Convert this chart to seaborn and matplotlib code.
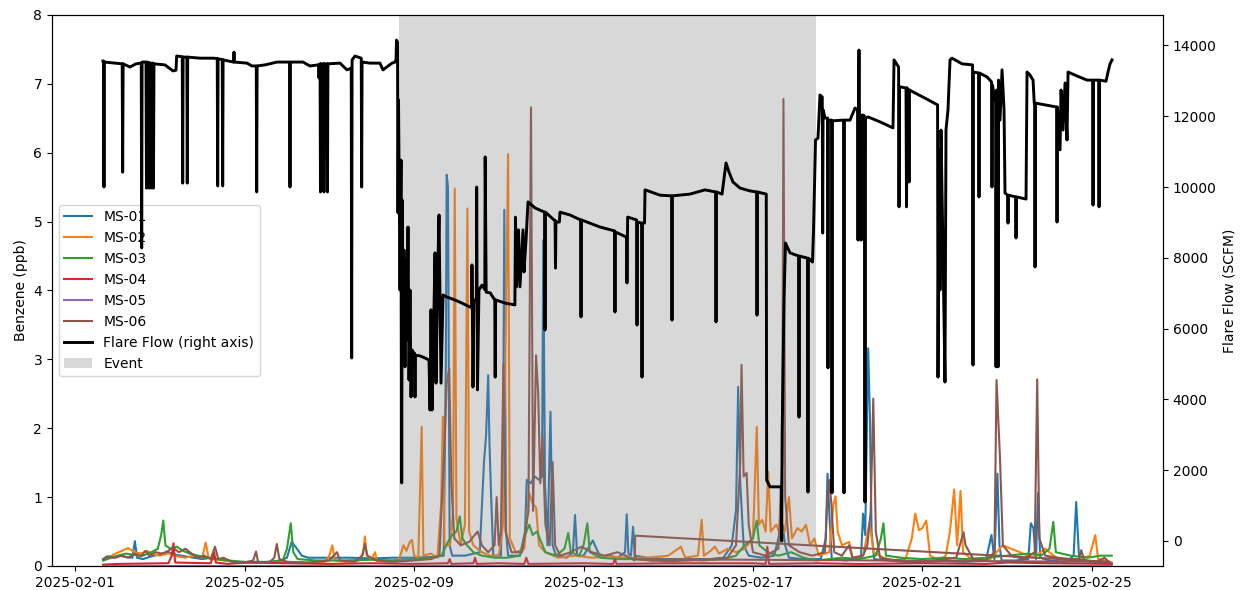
import numpy as np
import pandas as pd
import matplotlib
matplotlib.use("Agg")
import matplotlib.pyplot as plt
import matplotlib.dates as mdates
import seaborn as sns

# ---------------------------------------------------------------------------
# Data: times are days after 2025-02-01 00:00, benzene in ppb, flare in SCFM
# ---------------------------------------------------------------------------
START = pd.Timestamp("2025-02-01")

ms01 = [
    (0.66, 0.10), (0.75, 0.14), (0.90, 0.12), (1.05, 0.15), (1.20, 0.13), (1.35, 0.12),
    (1.41, 0.36), (1.46, 0.12), (1.60, 0.10), (1.80, 0.14), (2.00, 0.17), (2.20, 0.20),
    (2.40, 0.16), (2.60, 0.14), (2.80, 0.12), (3.00, 0.10), (3.20, 0.12), (3.40, 0.10),
    (3.60, 0.08), (3.80, 0.06), (4.00, 0.05), (4.30, 0.06), (4.60, 0.05), (4.85, 0.08),
    (5.00, 0.12), (5.11, 0.35), (5.20, 0.28), (5.35, 0.15), (5.50, 0.12), (6.00, 0.12),
    (6.50, 0.12), (7.00, 0.11), (7.50, 0.12), (8.00, 0.12), (8.40, 0.13), (8.70, 0.15),
    (8.75, 3.00), (8.77, 5.68), (8.80, 5.50), (8.84, 0.30), (8.90, 0.15), (9.20, 0.15),
    (9.55, 0.20), (9.65, 1.50), (9.70, 1.90), (9.75, 2.77), (9.78, 1.78), (9.82, 1.00),
    (9.87, 0.15), (10.05, 0.15), (10.10, 1.50), (10.13, 5.17), (10.17, 0.50), (10.22, 0.15),
    (10.50, 0.15), (10.62, 0.50), (10.66, 1.25), (10.75, 1.20), (10.85, 1.30), (10.95, 1.25),
    (11.02, 1.30), (11.05, 4.73), (11.09, 1.20), (11.15, 0.30), (11.22, 2.24), (11.27, 0.30),
    (11.35, 0.15), (11.60, 0.12), (11.75, 0.20), (11.80, 0.74), (11.85, 0.15), (12.00, 0.15),
    (12.10, 0.25), (12.22, 0.37), (12.40, 0.12), (12.60, 0.15), (12.80, 0.12), (12.98, 0.20),
    (13.02, 0.75), (13.06, 0.18), (13.12, 0.15), (13.17, 0.57), (13.21, 0.15), (13.50, 0.12),
    (14.00, 0.10), (14.50, 0.10), (15.00, 0.10), (15.30, 0.12), (15.50, 0.30), (15.60, 0.81),
    (15.65, 2.60), (15.70, 1.20), (15.78, 0.30), (15.90, 0.15), (16.20, 0.12), (16.50, 0.15),
    (16.60, 0.40), (16.70, 0.60), (16.76, 0.30), (16.85, 0.12), (17.20, 0.10), (17.60, 0.10),
    (17.72, 0.40), (17.76, 1.34), (17.80, 0.80), (17.86, 0.10), (18.20, 0.08), (18.55, 0.12),
    (18.60, 0.76), (18.65, 0.45), (18.72, 3.16), (18.76, 2.20), (18.80, 0.50), (18.86, 0.10),
    (19.20, 0.08), (19.60, 0.06), (20.00, 0.06), (20.50, 0.07), (21.00, 0.06), (21.50, 0.08),
    (21.63, 0.45), (21.70, 0.10), (21.77, 1.34), (21.82, 0.30), (21.87, 0.08), (22.20, 0.08),
    (22.50, 0.10), (22.56, 0.62), (22.62, 0.55), (22.68, 0.10), (22.73, 1.06), (22.78, 0.12),
    (23.00, 0.08), (23.40, 0.06), (23.57, 0.15), (23.63, 0.93), (23.70, 0.10), (24.00, 0.06),
    (24.47, 0.05),
]

ms02 = [
    (0.66, 0.08), (0.80, 0.12), (0.95, 0.18), (1.10, 0.22), (1.25, 0.26), (1.40, 0.20),
    (1.55, 0.18), (1.70, 0.22), (1.85, 0.17), (2.00, 0.15), (2.20, 0.18), (2.40, 0.14),
    (2.60, 0.12), (2.80, 0.15), (3.00, 0.12), (3.08, 0.34), (3.15, 0.12), (3.30, 0.10),
    (3.50, 0.08), (3.80, 0.06), (4.10, 0.05), (4.50, 0.05), (5.00, 0.06), (5.50, 0.05),
    (5.90, 0.06), (6.00, 0.15), (6.07, 0.30), (6.13, 0.08), (6.40, 0.06), (6.70, 0.08),
    (6.80, 0.20), (6.84, 0.43), (6.88, 0.15), (7.00, 0.10), (7.08, 0.20), (7.12, 0.08),
    (7.40, 0.06), (7.65, 0.10), (7.75, 0.30), (7.82, 0.22), (7.90, 0.35), (7.95, 0.38),
    (8.00, 0.15), (8.10, 0.12), (8.18, 2.02), (8.22, 0.15), (8.40, 0.18), (8.55, 0.12),
    (8.64, 0.90), (8.68, 2.17), (8.72, 0.30), (8.85, 0.30), (8.92, 0.80), (8.96, 5.48),
    (9.00, 0.70), (9.10, 0.30), (9.20, 0.60), (9.26, 5.19), (9.30, 0.50), (9.40, 0.30),
    (9.60, 0.20), (9.80, 0.15), (10.00, 0.15), (10.10, 0.60), (10.22, 5.98), (10.26, 0.40),
    (10.40, 0.20), (10.60, 0.25), (10.72, 1.06), (10.80, 0.90), (10.88, 0.85), (10.95, 0.30),
    (11.10, 0.20), (11.40, 0.12), (11.80, 0.15), (12.20, 0.12), (12.60, 0.14), (13.00, 0.12),
    (13.50, 0.12), (14.00, 0.15), (14.30, 0.28), (14.40, 0.12), (14.70, 0.15), (14.79, 0.67),
    (14.84, 0.15), (15.00, 0.22), (15.10, 0.28), (15.20, 0.18), (15.40, 0.25), (15.60, 0.20),
    (15.80, 0.25), (16.00, 0.40), (16.09, 2.02), (16.14, 0.60), (16.22, 0.67), (16.30, 0.50),
    (16.36, 1.37), (16.42, 0.50), (16.55, 0.60), (16.65, 0.45), (16.75, 0.50), (16.85, 1.00),
    (16.92, 0.40), (17.05, 0.55), (17.15, 0.50), (17.25, 0.60), (17.35, 0.30), (17.45, 0.40),
    (17.55, 0.15), (17.80, 0.20), (17.90, 0.90), (17.95, 1.01), (18.00, 0.50), (18.10, 0.30),
    (18.27, 0.35), (18.35, 0.12), (18.60, 0.15), (18.75, 0.62), (18.85, 0.20), (19.20, 0.08),
    (19.60, 0.10), (19.75, 0.40), (19.83, 0.76), (19.92, 0.52), (20.00, 0.55), (20.09, 0.66),
    (20.18, 0.15), (20.40, 0.08), (20.55, 0.15), (20.65, 0.50), (20.75, 1.11), (20.82, 0.30),
    (20.90, 1.09), (20.96, 0.20), (21.20, 0.08), (21.60, 0.10), (21.90, 0.30), (22.10, 0.25),
    (22.30, 0.20), (22.60, 0.12), (22.90, 0.25), (23.20, 0.10), (23.60, 0.08), (23.95, 0.15),
    (24.08, 0.45), (24.15, 0.10), (24.30, 0.08), (24.47, 0.04),
]

ms03 = [
    (0.66, 0.08), (0.85, 0.12), (1.00, 0.15), (1.20, 0.18), (1.40, 0.16), (1.60, 0.15),
    (1.80, 0.20), (1.95, 0.25), (2.03, 0.45), (2.08, 0.66), (2.13, 0.30), (2.25, 0.25),
    (2.40, 0.28), (2.55, 0.22), (2.70, 0.18), (2.90, 0.15), (3.10, 0.12), (3.30, 0.10),
    (3.60, 0.08), (4.00, 0.06), (4.50, 0.06), (4.90, 0.08), (5.00, 0.25), (5.09, 0.62),
    (5.15, 0.20), (5.25, 0.10), (5.70, 0.08), (6.30, 0.08), (7.00, 0.09), (7.60, 0.08),
    (8.00, 0.10), (8.40, 0.12), (8.65, 0.15), (8.80, 0.35), (8.90, 0.45), (9.00, 0.50),
    (9.08, 0.72), (9.14, 0.40), (9.25, 0.30), (9.40, 0.20), (9.60, 0.15), (9.90, 0.12),
    (10.20, 0.12), (10.50, 0.15), (10.62, 0.45), (10.72, 0.60), (10.80, 0.45), (10.90, 0.50),
    (11.00, 0.35), (11.10, 0.20), (11.35, 0.15), (11.55, 0.25), (11.64, 0.48), (11.70, 0.20),
    (11.90, 0.15), (12.00, 0.30), (12.09, 0.62), (12.15, 0.20), (12.40, 0.12), (12.80, 0.10),
    (13.20, 0.10), (13.60, 0.08), (14.20, 0.10), (14.80, 0.08), (15.30, 0.10), (15.60, 0.15),
    (15.80, 0.30), (16.00, 0.40), (16.09, 0.66), (16.15, 0.30), (16.35, 0.20), (16.60, 0.15),
    (16.90, 0.20), (17.20, 0.12), (17.50, 0.08), (17.80, 0.10), (18.10, 0.12), (18.50, 0.10),
    (18.90, 0.15), (19.02, 0.40), (19.08, 0.62), (19.14, 0.15), (19.50, 0.12), (20.00, 0.10),
    (20.50, 0.12), (21.00, 0.10), (21.50, 0.12), (22.00, 0.15), (22.50, 0.18), (22.80, 0.15),
    (23.00, 0.25), (23.09, 0.64), (23.15, 0.20), (23.50, 0.15), (23.90, 0.12), (24.20, 0.15),
    (24.47, 0.15),
]

ms04 = [
    (0.66, 0.02), (1.00, 0.03), (2.20, 0.04), (2.28, 0.15), (2.32, 0.33), (2.36, 0.05),
    (3.20, 0.04), (3.28, 0.20), (3.32, 0.05), (3.60, 0.03), (4.00, 0.05), (5.00, 0.04),
    (6.00, 0.03), (7.00, 0.04), (8.00, 0.03), (8.80, 0.04), (8.84, 0.10), (8.88, 0.03),
    (9.40, 0.04), (9.44, 0.12), (9.48, 0.03), (10.00, 0.04), (10.60, 0.03), (10.65, 0.12),
    (10.70, 0.03), (12.00, 0.04), (12.70, 0.03), (12.74, 0.10), (12.78, 0.03), (14.00, 0.04),
    (15.00, 0.04), (16.00, 0.04), (16.30, 0.03), (16.34, 0.28), (16.38, 0.03), (17.50, 0.04),
    (18.50, 0.03), (20.00, 0.04), (21.50, 0.03), (22.00, 0.05), (23.00, 0.04), (24.47, 0.03),
]

ms05 = [(0.66, 0.00), (8.00, 0.00), (16.00, 0.00), (24.47, 0.00)]

ms06 = [
    (0.66, 0.10), (0.80, 0.14), (0.95, 0.12), (1.10, 0.15), (1.25, 0.12), (1.40, 0.18),
    (1.55, 0.14), (1.66, 0.22), (1.75, 0.15), (1.90, 0.20), (2.05, 0.18), (2.20, 0.22),
    (2.30, 0.27), (2.45, 0.20), (2.60, 0.25), (2.75, 0.18), (2.90, 0.12), (3.05, 0.15),
    (3.20, 0.10), (3.30, 0.28), (3.38, 0.10), (3.50, 0.12), (3.70, 0.06), (4.00, 0.05),
    (4.20, 0.08), (4.27, 0.21), (4.32, 0.05), (4.60, 0.06), (4.70, 0.12), (4.76, 0.32),
    (4.82, 0.10), (5.00, 0.06), (5.50, 0.05), (6.00, 0.08), (6.18, 0.20), (6.25, 0.08),
    (6.60, 0.06), (6.78, 0.15), (6.84, 0.32), (6.90, 0.15), (7.10, 0.08), (7.50, 0.06),
    (8.00, 0.08), (8.40, 0.10), (8.60, 0.15), (8.72, 1.80), (8.77, 2.65), (8.83, 2.87),
    (8.88, 1.20), (8.95, 0.40), (9.10, 0.30), (9.30, 0.35), (9.50, 0.50), (9.60, 0.30),
    (9.75, 0.20), (9.90, 0.30), (9.95, 1.00), (10.00, 0.30), (10.05, 0.50), (10.11, 2.94),
    (10.16, 0.50), (10.30, 0.20), (10.55, 0.20), (10.70, 0.80), (10.76, 6.66), (10.81, 0.80),
    (10.88, 3.06), (10.93, 2.50), (10.98, 1.20), (11.03, 1.88), (11.10, 0.60), (11.20, 0.30),
    (11.27, 1.51), (11.33, 0.30), (11.45, 0.15), (11.70, 0.20), (11.95, 0.28), (12.20, 0.20),
    (12.50, 0.15), (12.80, 0.20), (13.00, 0.15), (13.21, 0.08), (13.22, 0.44),
    # second block of the station log, appended after the first one
    (24.43, 0.06),
    (13.25, 0.10), (13.60, 0.08), (14.00, 0.07), (14.50, 0.08), (15.00, 0.10), (15.40, 0.12),
    (15.60, 0.30), (15.70, 1.50), (15.73, 2.92), (15.78, 1.30), (15.85, 1.35), (15.90, 0.60),
    (16.00, 0.20), (16.30, 0.15), (16.60, 0.25), (16.69, 1.50), (16.72, 6.78), (16.76, 1.00),
    (16.85, 0.30), (17.10, 0.20), (17.40, 0.15), (17.70, 0.20), (17.75, 0.90), (17.80, 1.25),
    (17.85, 0.91), (17.92, 0.20), (18.10, 0.15), (18.27, 0.30), (18.35, 0.12), (18.60, 0.15),
    (18.70, 0.30), (18.78, 0.80), (18.84, 2.43), (18.90, 0.50), (19.00, 0.12), (19.40, 0.08),
    (19.80, 0.06), (20.30, 0.08), (20.80, 0.12), (20.97, 0.49), (21.02, 0.30), (21.20, 0.10),
    (21.50, 0.08), (21.70, 0.20), (21.75, 2.70), (21.83, 1.59), (21.90, 0.30), (22.10, 0.15),
    (22.40, 0.10), (22.65, 0.20), (22.71, 2.71), (22.76, 0.40), (22.90, 0.15), (23.20, 0.12),
    (23.50, 0.10), (23.70, 0.10), (23.75, 0.23), (23.82, 0.08), (24.10, 0.06), (24.30, 0.12),
    (24.40, 0.06),
]

flare = [
    # before the event
    (0.656, 13560), (0.670, 13560), (0.680, 10000), (0.690, 13530), (0.940, 13500),
    (1.110, 13480), (1.121, 10420), (1.132, 13480), (1.294, 13390), (1.435, 13480),
    (1.560, 13500), (1.570, 8280), (1.580, 13530), (1.672, 13530), (1.683, 9970), (1.695, 13530),
    (1.730, 13520), (1.742, 9970), (1.754, 13500), (1.790, 13500), (1.801, 9970), (1.813, 13500),
    (1.836, 13500), (1.848, 9970), (1.860, 13480), (2.120, 13450), (2.309, 13280), (2.380, 13300),
    (2.396, 13700), (2.528, 13680), (2.538, 10110), (2.548, 13670), (2.636, 13670), (2.646, 10110),
    (2.656, 13670), (2.946, 13640), (3.253, 13640), (3.354, 13630), (3.364, 10030), (3.374, 13620),
    (3.472, 13600), (3.482, 10030), (3.492, 13590), (3.740, 13530), (3.749, 13810), (3.758, 13530),
    (4.056, 13500), (4.174, 13420), (4.275, 13420), (4.285, 9860), (4.295, 13420), (4.481, 13450),
    (4.764, 13530), (5.061, 13530), (5.071, 10000), (5.081, 13530), (5.378, 13530), (5.543, 13420),
    (5.732, 13450), (5.746, 13440), (5.756, 13080), (5.766, 13450), (5.781, 13480), (5.791, 9860),
    (5.801, 13480), (5.863, 13480), (5.873, 9860), (5.883, 13480), (5.946, 13480), (5.956, 9860),
    (5.966, 13480), (6.251, 13500), (6.416, 13310), (6.517, 13360), (6.527, 5170), (6.537, 13590),
    (6.605, 13700), (6.753, 13640), (6.763, 10000), (6.773, 13530), (6.959, 13500), (7.195, 13500),
    (7.266, 13310), (7.479, 13500), (7.550, 13530), (7.575, 13600), (7.585, 14150), (7.609, 14100),
    # event
    (7.621, 9270), (7.633, 12460), (7.644, 10850), (7.668, 7090), (7.692, 10760), (7.708, 1640),
    (7.722, 9630), (7.738, 5110), (7.762, 8220), (7.786, 4920), (7.810, 7940), (7.833, 5680),
    (7.857, 8870), (7.881, 4550), (7.904, 7090), (7.928, 4070), (7.951, 5400), (7.975, 5340),
    (8.012, 5300), (8.022, 4070), (8.032, 5250), (8.140, 5230), (8.258, 5170), (8.353, 5110),
    (8.377, 3700), (8.400, 6530), (8.424, 3700), (8.447, 5060), (8.495, 8140), (8.518, 4460),
    (8.565, 7940), (8.589, 9210), (8.612, 6810), (8.636, 4460), (8.683, 6950), (8.778, 6890),
    (8.966, 6810), (9.131, 6720), (9.320, 6610), (9.360, 6600), (9.367, 7800), (9.391, 4350),
    (9.414, 6810), (9.470, 6800), (9.478, 10000), (9.497, 4270), (9.532, 7090), (9.603, 7230),
    (9.670, 7100), (9.679, 10850), (9.702, 7030), (9.797, 7010), (9.905, 6810), (9.915, 4630),
    (9.925, 6810), (10.151, 6720), (10.380, 6670), (10.394, 9150), (10.420, 7180), (10.465, 8790),
    (10.500, 7180), (10.572, 8790), (10.595, 7600), (10.643, 8500), (10.690, 9580), (10.855, 9410),
    (11.081, 9290), (11.091, 5960), (11.101, 9290), (11.304, 9070), (11.329, 9060), (11.339, 7710),
    (11.349, 9010), (11.430, 9010), (11.445, 9290), (11.681, 9210), (11.931, 9070), (11.941, 6330),
    (11.951, 9070), (12.389, 8870), (12.733, 8760), (12.743, 6470), (12.753, 8730), (13.003, 8590),
    (13.016, 8590), (13.026, 7290), (13.036, 8590), (13.042, 9150), (13.253, 9070), (13.263, 6100),
    (13.273, 9010), (13.371, 8980), (13.381, 4630), (13.391, 8980), (13.440, 8980), (13.452, 9920),
    (13.806, 9770), (14.079, 9750), (14.089, 6240), (14.099, 9750), (14.514, 9800), (14.868, 9920),
    (15.118, 9860), (15.128, 6190), (15.138, 9860), (15.270, 9800), (15.364, 10680), (15.435, 10420),
    (15.529, 10140), (15.695, 9970), (15.931, 9890), (16.086, 9860), (16.096, 6380), (16.106, 9860),
    (16.314, 9800), (16.324, 1720), (16.402, 1530), (16.668, 1530), (16.678, 0), (16.690, 3050),
    (16.733, 6810), (16.768, 8420), (16.874, 8140), (17.077, 8050), (17.087, 3500), (17.097, 8050),
    (17.289, 7990), (17.299, 1380), (17.309, 7990), (17.406, 7880), (17.430, 8790), (17.477, 11330),
    # after the event
    (17.535, 11380), (17.582, 12600), (17.636, 12540), (17.646, 8700), (17.656, 12180), (17.701, 11950),
    (17.761, 11950), (17.771, 4890), (17.781, 11890), (17.856, 11890), (17.866, 1360), (17.876, 11870),
    (18.139, 11890), (18.149, 1360), (18.159, 11890), (18.291, 11890), (18.409, 12230), (18.470, 12180),
    (18.480, 8500), (18.490, 12200), (18.503, 13870), (18.515, 12000), (18.541, 11950), (18.551, 8500),
    (18.561, 12030), (18.612, 12030), (18.622, 8500), (18.632, 12000), (18.645, 1100), (18.657, 11950),
    (18.716, 11980), (19.000, 11840), (19.306, 11670), (19.330, 13590), (19.438, 13390), (19.448, 9440),
    (19.458, 12830), (19.613, 12800), (19.625, 9440), (19.637, 12800), (19.674, 12740), (19.684, 10140),
    (19.694, 12740), (20.062, 12510), (20.358, 12320), (20.368, 4630), (20.392, 11050), (20.415, 7090),
    (20.439, 11610), (20.486, 8220), (20.533, 4490), (20.557, 11610), (20.604, 12180), (20.652, 13590),
    (20.699, 13640), (20.935, 13480), (21.184, 13450), (21.194, 4970), (21.204, 13250), (21.326, 13220),
    (21.336, 9720), (21.346, 13220), (21.525, 13110), (21.633, 12970), (21.643, 10000), (21.653, 12880),
    (21.714, 12460), (21.728, 12600), (21.738, 4920), (21.750, 12740), (21.775, 12700), (21.785, 4920),
    (21.797, 13020), (21.832, 11890), (21.880, 13310), (21.927, 12180), (21.950, 9830), (22.011, 9770),
    (22.021, 8980), (22.031, 9770), (22.200, 9720), (22.210, 8560), (22.220, 9720), (22.446, 9660),
    (22.470, 13250), (22.541, 13160), (22.612, 13020), (22.640, 12370), (22.649, 12370), (22.659, 7740),
    (22.669, 12370), (22.895, 12320), (23.168, 12260), (23.178, 9010), (23.188, 12260), (23.249, 11050),
    (23.273, 12740), (23.320, 11610), (23.367, 12940), (23.414, 11330), (23.438, 13250), (23.603, 13160),
    (23.886, 13020), (24.018, 13020), (24.028, 9490), (24.038, 13020), (24.160, 13020), (24.170, 9440),
    (24.180, 13020), (24.335, 12990), (24.382, 13250), (24.429, 13480), (24.476, 13590),
]

stations = ["MS-01", "MS-02", "MS-03", "MS-04", "MS-05", "MS-06"]
station_data = [ms01, ms02, ms03, ms04, ms05, ms06]
station_colors = ["#1f77b4", "#ff7f0e", "#2ca02c", "#d62728", "#9467bd", "#8c564b"]

event_start_day = 7.644
event_end_day = 17.488


def to_frame(pairs, name):
    days, vals = zip(*pairs)
    return pd.DataFrame({
        "time": START + pd.to_timedelta(np.array(days), unit="D"),
        name: np.array(vals, dtype=float),
    })


fig, ax = plt.subplots(figsize=(12.46, 5.90), dpi=100)
fig.subplots_adjust(left=0.0417, right=0.9334, bottom=0.0407, top=0.9746)

for name, pairs, col in zip(stations, station_data, station_colors):
    df = to_frame(pairs, "ppb")
    sns.lineplot(data=df, x="time", y="ppb", ax=ax, color=col, label=name,
                 sort=False, estimator=None, linewidth=1.5, legend=False)

ax2 = ax.twinx()
ax2.axvspan(START + pd.Timedelta(days=event_start_day),
            START + pd.Timedelta(days=event_end_day),
            color="gray", alpha=0.3, linewidth=0, label="Event")
fdf = to_frame(flare, "scfm")
sns.lineplot(data=fdf, x="time", y="scfm", ax=ax2, color="black", linewidth=2.1,
             label="Flare Flow (right axis)", sort=False, estimator=None, legend=False)

ax.set_ylim(0, 8)
ax2.set_ylim(-706, 14860)
ax.set_xlim(START + pd.Timedelta(days=-0.548), START + pd.Timedelta(days=25.68))

ax.xaxis.set_major_locator(mdates.DayLocator(bymonthday=[1, 5, 9, 13, 17, 21, 25]))
ax.xaxis.set_major_formatter(mdates.DateFormatter("%Y-%m-%d"))

ax.set_xlabel("")
ax.set_ylabel("Benzene (ppb)")
ax2.set_ylabel("Flare Flow (SCFM)")

h1, l1 = ax.get_legend_handles_labels()
h2, l2 = ax2.get_legend_handles_labels()
# line first, then the shaded event patch
order2 = sorted(range(len(h2)), key=lambda i: 0 if l2[i].startswith("Flare") else 1)
handles = h1 + [h2[i] for i in order2]
labels = l1 + [l2[i] for i in order2]
ax.legend(handles, labels, loc="center left")

fig.savefig("out.png", dpi=100)
